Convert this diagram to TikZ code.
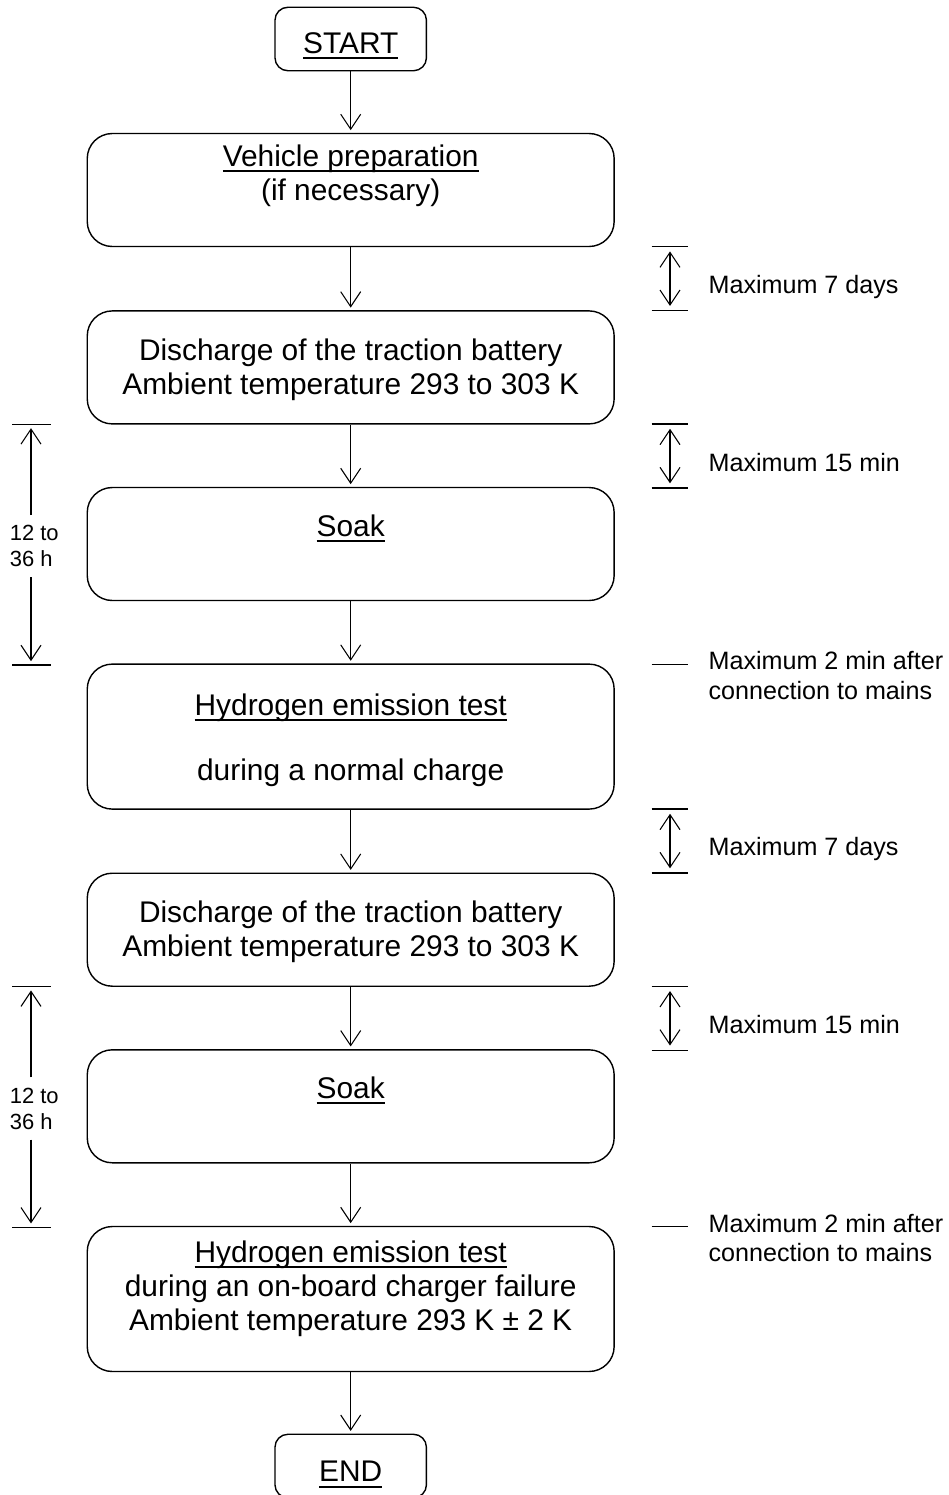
\documentclass[tikz,border=0pt]{standalone}
\usepackage{fontspec}
\setmainfont{Liberation Sans}
\usetikzlibrary{arrows.meta,positioning}

\newcommand{\mainsize}{\fontsize{17}{19.35}\selectfont}
\newcommand{\notesize}{\fontsize{14.3}{16.8}\selectfont}
\newcommand{\sidesize}{\fontsize{12.5}{14.8}\selectfont}
\newcommand{\ulabel}[1]{\setbox0\hbox{#1}\rlap{\rule[-3.4pt]{\wd0}{1.1pt}}\box0}

\tikzset{
  stepbox/.style={draw, rounded corners=0.5cm, line width=0.8pt, minimum width=10.54cm, minimum height=2.26cm, inner sep=0pt},
  endbox/.style={draw, rounded corners=0.26cm, line width=0.8pt, minimum width=3.03cm, minimum height=1.27cm, inner sep=0pt},
  maintxt/.style={anchor=base, align=center, font=\mainsize, inner sep=0pt},
  notetxt/.style={anchor=base west, align=left, font=\notesize, inner sep=0pt},
  sidetxt/.style={anchor=base west, align=left, font=\sidesize, inner xsep=0pt, inner ysep=0.2cm},
  flow/.style={->, line width=0.6pt, shorten >=1.5pt},
  durarrow/.style={<->, line width=0.6pt, shorten >=2.7pt, shorten <=2.7pt},
  tickline/.style={line width=0.8pt}
}

\begin{document}
\begin{tikzpicture}[x=0.02cm, y=-0.02cm, >={Straight Barb[length=0.3cm,width=0.4cm]}]

\useasboundingbox (0,0) rectangle (948,1495);

% Boxes
\node[endbox] (start) at (350.7,39) {};
\node[stepbox] (prep) at (350.7,190) {};
\node[stepbox] (dis1) at (350.7,367.4) {};
\node[stepbox] (soak1) at (350.7,544) {};
\node[stepbox, minimum height=2.9cm] (hyd1) at (350.7,736.6) {};
\node[stepbox] (dis2) at (350.7,929.7) {};
\node[stepbox] (soak2) at (350.7,1106.3) {};
\node[stepbox, minimum height=2.9cm] (hyd2) at (350.7,1299) {};
\node[endbox] (end) at (350.7,1466) {};

% Box texts (base = last line)
\node[maintxt] (start-t) at (350.7,53.3) {\ulabel{START}};
\node[maintxt] (prep-t) at (350.7,200) {\ulabel{Vehicle preparation}\\(if necessary)};
\node[maintxt] (dis1-t) at (350.7,394) {Discharge of the traction battery\\Ambient temperature 293 to 303 K};
\node[maintxt] (soak1-t) at (350.7,536) {\ulabel{Soak}};
\node[maintxt] (hyd1-t) at (350.7,780) {\ulabel{Hydrogen emission test}\\[17.6pt]during a normal charge};
\node[maintxt] (dis2-t) at (350.7,956.3) {Discharge of the traction battery\\Ambient temperature 293 to 303 K};
\node[maintxt] (soak2-t) at (350.7,1098.3) {\ulabel{Soak}};
\node[maintxt] (hyd2-t) at (350.7,1330) {\ulabel{Hydrogen emission test}\\during an on-board charger failure\\Ambient temperature 293 K ± 2 K};
\node[maintxt] (end-t) at (350.7,1481.7) {\ulabel{END}};

% Flow
\draw[flow] (start) -- (prep);
\draw[flow] (prep) -- (dis1);
\draw[flow] (dis1) -- (soak1);
\draw[flow] (soak1) -- (hyd1);
\draw[flow] (hyd1) -- (dis2);
\draw[flow] (dis2) -- (soak2);
\draw[flow] (soak2) -- (hyd2);
\draw[flow] (hyd2) -- (end);

% Time limits, once per cycle
\foreach \n/\dy in {1/0, 2/562.3} {
  \begin{scope}[shift={(0,\dy)}]
    % right: maximum 7 days
    \draw[tickline] (651.7,246.7) -- (688.3,246.7);
    \draw[tickline] (651.7,310.7) -- (688.3,310.7);
    \coordinate (days\n a) at (670,246.7);
    \coordinate (days\n b) at (670,310.7);
    \draw[durarrow] (days\n a) -- (days\n b);
    \node[notetxt] (days\n) at (708.3,293.3) {Maximum 7 days};
    % right: maximum 15 min
    \draw[tickline] (651.7,424) -- (688.3,424);
    \draw[tickline] (651.7,488) -- (688.3,488);
    \coordinate (mins\n a) at (670,424);
    \coordinate (mins\n b) at (670,488);
    \draw[durarrow] (mins\n a) -- (mins\n b);
    \node[notetxt] (mins\n) at (708.3,471) {Maximum 15 min};
    % right: maximum 2 min
    \draw[tickline] (651.7,664.3) -- (688.3,664.3);
    \node[notetxt] (mains\n) at (708.3,699.5) {Maximum 2 min after\\connection to mains};
    % left: soak time
    \draw[tickline] (12.3,424.3) -- (50.7,424.3);
    \draw[tickline] (12.3,665) -- (50.7,665);
    \coordinate (soak\n a) at (31,424.3);
    \coordinate (soak\n b) at (31,665);
    \node[sidetxt] (hours\n) at (9.5,566.7) {12 to\\36 h};
    \draw[flow, shorten >=2.2pt] (hours\n.north -| soak\n a) -- (soak\n a);
    \draw[flow, shorten >=2.2pt] (hours\n.south -| soak\n b) -- (soak\n b);
  \end{scope}
}

\end{tikzpicture}
\end{document}
